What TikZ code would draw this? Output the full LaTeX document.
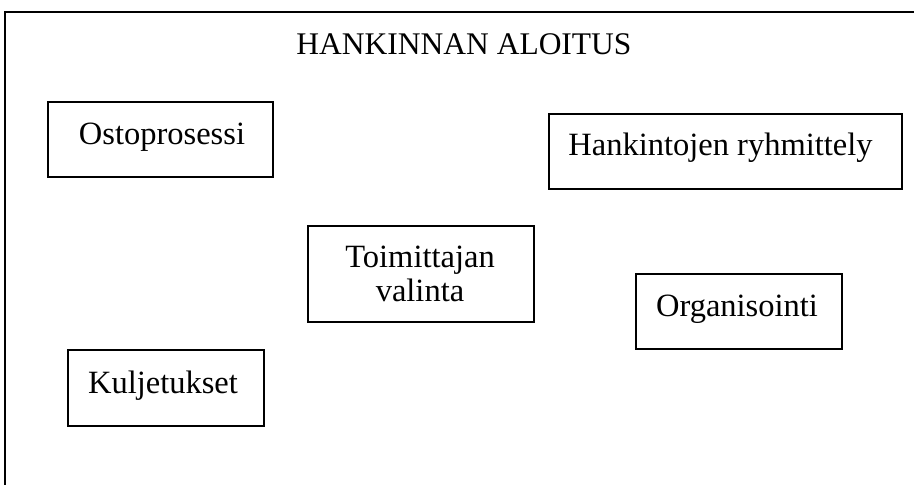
\documentclass[tikz,border=0pt]{standalone}
\usepackage{fontspec}
\setmainfont{Liberation Serif}
\begin{document}
\begin{tikzpicture}[x=1pt,y=-1pt,
  frameline/.style={line width=2pt},
  boxline/.style={line width=2pt},
  boxtext/.style={inner sep=0pt,anchor=base,font=\fontsize{32.5}{38}\selectfont},
  titletext/.style={inner sep=0pt,anchor=base,font=\fontsize{31.5}{36}\selectfont}]
\useasboundingbox (0,0) rectangle (914,485);
\coordinate (fbl) at (5,486);
\coordinate (ftl) at (5,12);
\coordinate (ftr) at (915,12);
\draw[frameline] (fbl) -- (ftl) -- (ftr);
\node[titletext] (title) at (464,54) {HANKINNAN ALOITUS};
\draw[boxline] (48,102) rectangle (273,177);
\node[boxtext] (osto) at (162,144) {Ostoprosessi};
\draw[boxline] (549,114) rectangle (902,189);
\node[boxtext] (hank) at (720.5,155) {Hankintojen ryhmittely};
\draw[boxline] (308,226) rectangle (534,322);
\node[boxtext] (toim1) at (420,267) {Toimittajan};
\node[boxtext] (toim2) at (420,301) {valinta};
\draw[boxline] (636,274) rectangle (842,349);
\node[boxtext] (org) at (737,316) {Organisointi};
\draw[boxline] (68,350) rectangle (264,426);
\node[boxtext] (kulj) at (163,393) {Kuljetukset};
\end{tikzpicture}
\end{document}
